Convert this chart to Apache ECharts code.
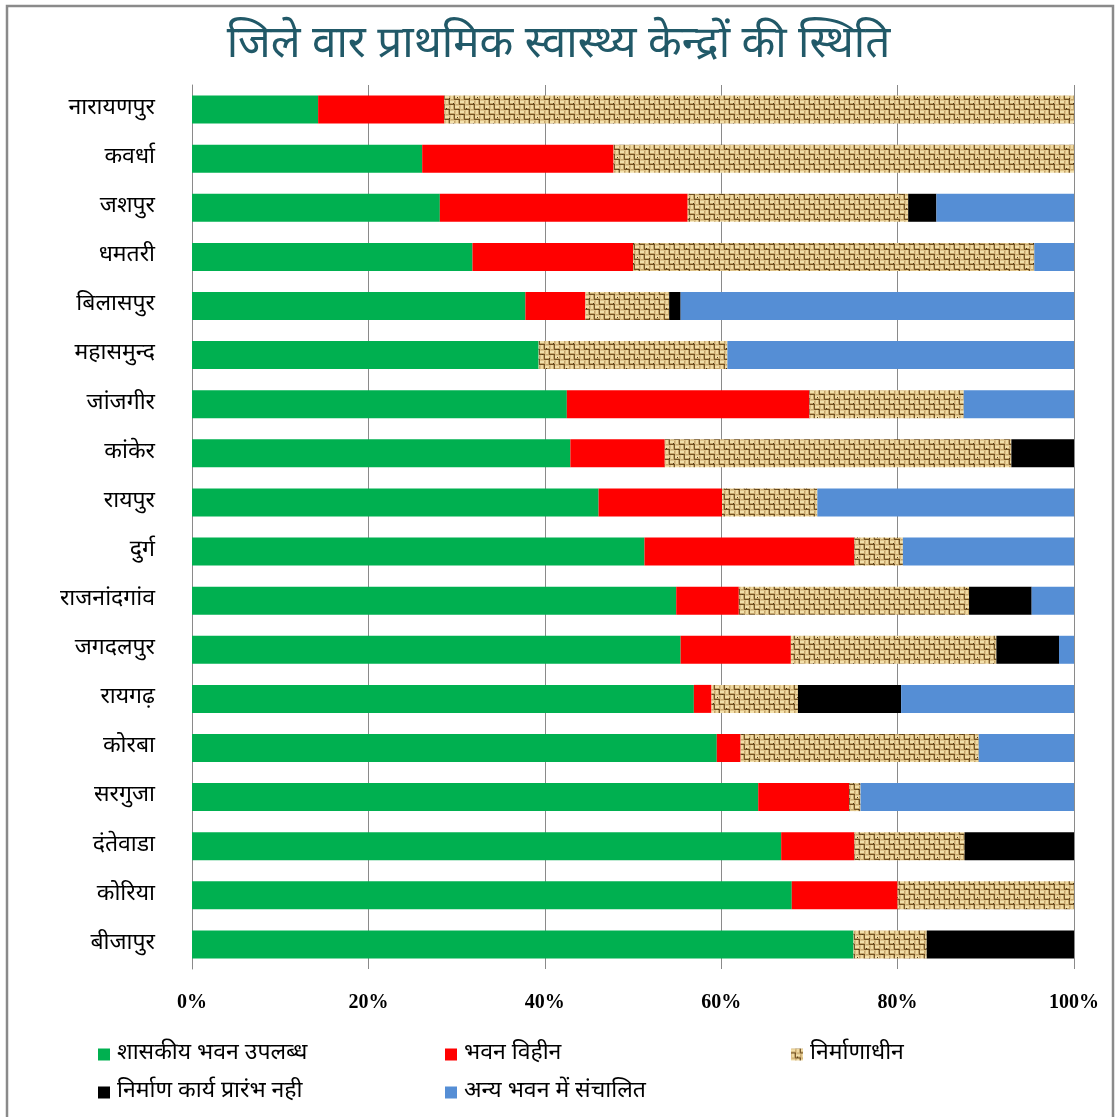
<!DOCTYPE html>
<html>
<head>
<meta charset="utf-8">
<title>जिले वार प्राथमिक स्वास्थ्य केन्द्रों की स्थिति</title>
<script src="https://cdn.jsdelivr.net/npm/echarts@6/dist/echarts.min.js"></script>
<style>
  html, body { margin: 0; padding: 0; background: #fff; }
  #chart { width: 1117px; height: 1117px; }
</style>
</head>
<body>
<div id="chart"></div>
<script>
// Districts, top to bottom
const districts = ['नारायणपुर', 'कवर्धा', 'जशपुर', 'धमतरी', 'बिलासपुर', 'महासमुन्द', 'जांजगीर', 'कांकेर', 'रायपुर', 'दुर्ग', 'राजनांदगांव', 'जगदलपुर', 'रायगढ़', 'कोरबा', 'सरगुजा', 'दंतेवाडा', 'कोरिया', 'बीजापुर'];

// Share of primary health centres (%) by building status
const seriesNames = ['शासकीय भवन उपलब्ध', 'भवन विहीन', 'निर्माणाधीन', 'निर्माण कार्य प्रारंभ नही', 'अन्य भवन में संचालित'];
const ownBuilding   = [14.3, 26.1, 28.1, 31.8, 37.8, 39.3, 42.5, 42.9, 46.1, 51.3, 54.9, 55.4, 56.9, 59.5, 64.2, 66.8, 68.0, 75.0];
const noBuilding    = [14.3, 21.7, 28.1, 18.2, 6.8, 0, 27.5, 10.7, 14.0, 23.8, 7.1, 12.5, 2.0, 2.7, 10.3, 8.3, 12.0, 0];
const underConstr   = [71.4, 52.2, 25.0, 45.5, 9.5, 21.4, 17.5, 39.3, 10.8, 5.5, 26.1, 23.3, 9.8, 27.0, 1.3, 12.5, 20.0, 8.3];
const notStarted    = [0, 0, 3.2, 0, 1.3, 0, 0, 7.1, 0, 0, 7.1, 7.1, 11.7, 0, 0, 12.4, 0, 16.7];
const otherBuilding = [0, 0, 15.6, 4.5, 44.6, 39.3, 12.5, 0, 29.1, 19.4, 4.8, 1.7, 19.6, 10.8, 24.2, 0, 0, 0];

const xTicks = { min: 0, max: 100, interval: 20 };

// Woven burlap tile for the "under construction" fill
function burlapTile() {
  const s = 5, k = 4, n = s * k;
  const c = document.createElement('canvas');
  c.width = n; c.height = n;
  const g = c.getContext('2d');
  g.fillStyle = '#c6a76c';
  g.fillRect(0, 0, n, n);
  for (let i = 0; i < k; i++) {
    for (let j = 0; j < k; j++) {
      const x = i * s, y = j * s;
      if ((i + j) % 2 === 0) {
        g.fillStyle = '#e0c48a';
        g.fillRect(x, y, s, 1);
        g.fillStyle = '#f3e0ab';
        g.fillRect(x, y + 1, s - 1, 2);
        g.fillStyle = '#6f4f20';
        g.fillRect(x, y + 4, s, 1);
      } else {
        g.fillStyle = '#dcbf86';
        g.fillRect(x, y, 1, s);
        g.fillStyle = '#efd9a2';
        g.fillRect(x + 1, y, 2, s - 1);
        g.fillStyle = '#775628';
        g.fillRect(x + 4, y, 1, s);
      }
    }
  }
  g.fillStyle = '#4f3615';
  [[6, 8], [13, 3], [2, 14], [17, 17], [9, 18], [18, 9]].forEach(p => g.fillRect(p[0], p[1], 1, 1));
  return c;
}
const burlap = { image: burlapTile(), repeat: 'repeat' };

const colors = ['#00b050', '#ff0000', burlap, '#000000', '#558ed5'];
const values = [ownBuilding, noBuilding, underConstr, notStarted, otherBuilding];

const devFont = '"Noto Sans Devanagari", "Lohit Devanagari", "Noto Sans", sans-serif';

const chart = echarts.init(document.getElementById('chart'), null, { renderer: 'canvas' });

const legendPos = [
  { left: 98, top: 1043 },
  { left: 445, top: 1043 },
  { left: 791, top: 1043 },
  { left: 98, top: 1081 },
  { left: 445, top: 1081 }
];

const option = {
  backgroundColor: '#ffffff',
  animation: false,
  title: {
    text: 'जिले वार प्राथमिक स्वास्थ्य केन्द्रों की स्थिति',
    left: 'center',
    top: 22,
    textStyle: { fontFamily: devFont, fontSize: 44, fontWeight: 'normal', color: '#215968' }
  },
  graphic: [{
    type: 'rect',
    shape: { x: 7, y: 6, width: 1106, height: 1130 },
    style: { fill: 'none', stroke: '#8a8a8a', lineWidth: 2.5 },
    silent: true
  }],
  legend: seriesNames.map((name, i) => ({
    data: [name],
    left: legendPos[i].left,
    top: legendPos[i].top,
    padding: 0,
    itemWidth: 12,
    itemHeight: 12,
    itemGap: 8,
    icon: 'rect',
    textStyle: { fontFamily: devFont, fontSize: 23, color: '#000', padding: [0, 0, 0, 2] }
  })),
  grid: { left: 192, right: 43, top: 85, bottom: 148, containLabel: false },
  xAxis: {
    type: 'value',
    min: xTicks.min,
    max: xTicks.max,
    interval: xTicks.interval,
    axisLine: { show: false },
    axisTick: { show: false },
    splitLine: { show: true, lineStyle: { color: '#8a8a8a', width: 1 } },
    axisLabel: {
      formatter: '{value}%',
      margin: 24,
      fontFamily: '"Liberation Serif", serif',
      fontWeight: 'bold',
      fontSize: 20,
      color: '#000'
    }
  },
  yAxis: {
    type: 'category',
    data: districts,
    inverse: true,
    axisLine: { show: true, lineStyle: { color: '#8a8a8a', width: 1 } },
    axisTick: { show: false },
    axisLabel: { margin: 37, fontFamily: devFont, fontSize: 23, color: '#000' }
  },
  series: seriesNames.map((name, i) => ({
    name: name,
    type: 'bar',
    stack: 'total',
    data: values[i],
    barWidth: 28,
    itemStyle: { color: colors[i] }
  }))
};

chart.setOption(option);
</script>
</body>
</html>
